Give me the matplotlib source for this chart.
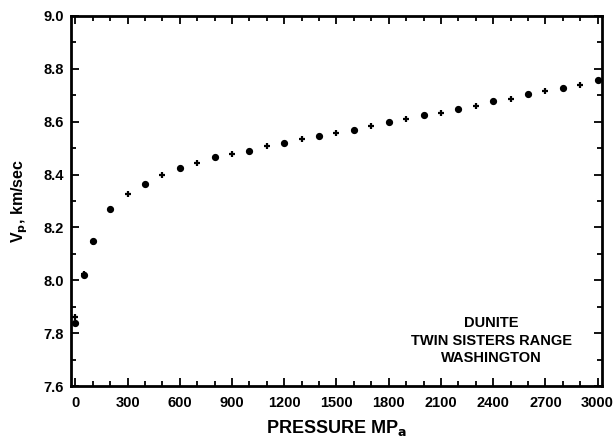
import matplotlib.pyplot as plt
from matplotlib.ticker import MultipleLocator

plt.rcParams['font.family'] = ['Liberation Sans', 'DejaVu Sans']
plt.rcParams['font.weight'] = 'bold'

# circles: even hundreds (plus the low-pressure runs)
p_circ = [0, 50, 100, 200, 400, 600, 800, 1000, 1200, 1400, 1600, 1800,
          2000, 2200, 2400, 2600, 2800, 3000]
v_circ = [7.84, 8.02, 8.15, 8.27, 8.365, 8.425, 8.465, 8.49, 8.52, 8.545,
          8.57, 8.598, 8.624, 8.648, 8.678, 8.705, 8.727, 8.758]

# crosses: odd hundreds
p_plus = [0, 50, 100, 300, 500, 700, 900, 1100, 1300, 1500, 1700, 1900,
          2100, 2300, 2500, 2700, 2900]
v_plus = [7.86, 8.025, 8.145, 8.325, 8.397, 8.445, 8.477, 8.508, 8.533,
          8.558, 8.584, 8.609, 8.634, 8.659, 8.686, 8.716, 8.74]

fig = plt.figure(figsize=(6.15, 4.37), dpi=100)
ax = fig.add_axes([0.1154, 0.1167, 0.8634, 0.8467])

ax.plot(p_circ, v_circ, 'o', color='black', markersize=4.2)
ax.plot(p_plus, v_plus, '+', color='black', markersize=5, markeredgewidth=1.6)

ax.set_xlim(-25, 3025)
ax.set_ylim(7.6, 9.0)
ax.xaxis.set_major_locator(MultipleLocator(300))
ax.xaxis.set_minor_locator(MultipleLocator(100))
ax.yaxis.set_major_locator(MultipleLocator(0.2))
ax.yaxis.set_minor_locator(MultipleLocator(0.1))
ax.yaxis.set_major_formatter(plt.FormatStrFormatter('%.1f'))

ax.tick_params(which='both', direction='in', top=True, right=True,
               width=1.3, labelsize=10.5)
ax.tick_params(which='major', length=6)
ax.tick_params(which='minor', length=3.5)
ax.tick_params(axis='x', pad=7)
ax.tick_params(axis='y', pad=5)
for s in ax.spines.values():
    s.set_linewidth(2)
for lab in ax.get_xticklabels() + ax.get_yticklabels():
    lab.set_fontweight('bold')

ax.set_xlabel('PRESSURE MP$_\\mathbf{a}$', fontsize=13, fontweight='bold',
              labelpad=6)
ax.set_ylabel('V$_\\mathbf{p}$, km/sec', fontsize=11.5, fontweight='bold',
              labelpad=10)

ax.text(2390, 7.68, 'DUNITE\nTWIN SISTERS RANGE\nWASHINGTON', ha='center',
        va='bottom', fontsize=10.5, fontweight='bold', linespacing=1.3)

fig.savefig('out.png', dpi=100)
